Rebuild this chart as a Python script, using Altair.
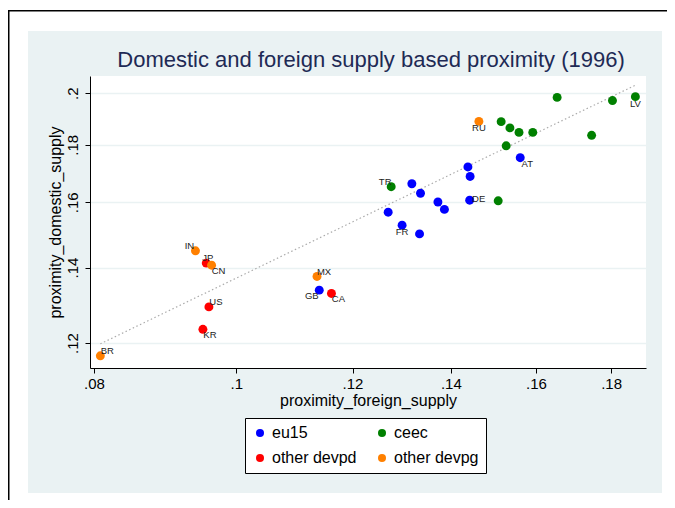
import altair as alt
import pandas as pd

# ---- data ----
# legend entries are laid out column by column: col 1 = eu15 / other devpd, col 2 = ceec / other devpg
groups_order = ["eu15", "other devpd", "ceec", "other devpg"]
group_colors = ["#0000FF", "#FF0000", "#008000", "#FF8000"]

codes = ["AT", "", "", "", "", "", "", "DE", "", "FR", "", "GB",
         "", "", "LV", "", "", "", "", "", "", "TR", "",
         "JP", "CA", "US", "KR",
         "RU", "IN", "CN", "MX", "BR"]
groups = (["eu15"] * 12 + ["ceec"] * 11 + ["other devpd"] * 4 + ["other devpg"] * 5)
foreign = [0.1561, 0.1438, 0.1443, 0.1317, 0.1335, 0.1372, 0.1386, 0.1442, 0.1269, 0.1297, 0.1333, 0.1139,
           0.1654, 0.1804, 0.1870, 0.1515, 0.1536, 0.1558, 0.1592, 0.1746, 0.1527, 0.1275, 0.1508,
           0.0954, 0.1161, 0.0958, 0.0949,
           0.1463, 0.0938, 0.0962, 0.1135, 0.0808]
domestic = [0.1753, 0.1720, 0.1687, 0.1662, 0.1630, 0.1601, 0.1577, 0.1607, 0.1568, 0.1527, 0.1500, 0.1337,
            0.1983, 0.1970, 0.1986, 0.1887, 0.1863, 0.1846, 0.1846, 0.1835, 0.1796, 0.1652, 0.1605,
            0.1413, 0.1328, 0.1292, 0.1234,
            0.1888, 0.1449, 0.1407, 0.1375, 0.1169]

# marker-label clock positions (as in Stata's mlabvposition)
label_clock = {"LV": 6, "RU": 6, "FR": 6, "AT": 4, "CN": 4, "CA": 4, "KR": 4,
               "TR": 11, "IN": 11, "JP": 12, "MX": 2, "US": 2, "BR": 2, "DE": 3, "GB": 8}

# fitted line end points
fit_x = [0.0808, 0.1870]
fit_y = [0.1198, 0.2033]

x_ticks = [0.08, 0.10, 0.12, 0.14, 0.16, 0.18]
y_ticks = [0.12, 0.14, 0.16, 0.18, 0.20]

title_text = "Domestic and foreign supply based proximity (1996)"

# ---- styling ----
FONT = "Liberation Sans, Arial, Helvetica, sans-serif"
BG = "#EAF2F3"
W, H = 556, 292
PL, PT = 82, 68
CW, CH = 659, 492

df = pd.DataFrame({"code": codes, "group": groups, "x": foreign, "y": domestic})
df["clock"] = df["code"].map(label_clock).fillna(0).astype(int)
fit_df = pd.DataFrame({"x": fit_x, "y": fit_y})

xscale = alt.Scale(type="log", domain=[0.0795, 0.19014], nice=False)
yscale = alt.Scale(type="log", domain=[0.11402, 0.20716], nice=False)

xaxis = alt.Axis(values=x_ticks, labelExpr="substring(format(datum.value, '.2~f'), 1)",
                 title="proximity_foreign_supply", grid=False, labelFlush=False,
                 labelOverlap=False, tickSize=5, labelPadding=3, titlePadding=1)
yaxis = alt.Axis(values=y_ticks, labelExpr="substring(format(datum.value, '.2~f'), 1)",
                 title="proximity_domestic_supply", grid=True, gridColor=BG, gridWidth=1.5,
                 labelAngle=270, labelAlign="center", labelBaseline="bottom",
                 labelFlush=False, labelOverlap=False, tickSize=5, labelPadding=5,
                 titlePadding=2)

X = alt.X("x:Q", scale=xscale, axis=xaxis)
Y = alt.Y("y:Q", scale=yscale, axis=yaxis)

fit = alt.Chart(fit_df).mark_line(color="#ABABAB", strokeDash=[1.5, 2.5], strokeWidth=1.2).encode(
    x=alt.X("x:Q", scale=xscale), y=alt.Y("y:Q", scale=yscale))

points = alt.Chart(df).mark_circle(size=80, opacity=1).encode(
    x=X, y=Y,
    color=alt.Color("group:N", scale=alt.Scale(domain=groups_order, range=group_colors),
                    legend=alt.Legend(title=None, orient="none", legendX=155, legendY=342,
                                      columns=2, columnPadding=17, rowPadding=9,
                                      padding=7, strokeColor="black", fillColor="white",
                                      symbolType="circle", symbolSize=64, symbolStrokeWidth=0,
                                      labelFontSize=16, labelFont=FONT, labelColor="black",
                                      labelOffset=4, labelLimit=300)),
    order=alt.Order("idx:Q"),
).transform_window(idx="row_number()")

offsets = {6: (0, 7), 4: (7, 6), 11: (-6, -5), 12: (1.5, -5.5), 2: (7, -4.5), 3: (9, -1.5), 8: (-7.5, 5.5)}
text_layers = []
for clock, (ddx, ddy) in offsets.items():
    text_layers.append(
        alt.Chart(df).transform_filter(alt.datum.clock == clock).mark_text(
            fontSize=9.5, font=FONT, color="#222222", dx=ddx, dy=ddy,
            align="center", baseline="middle").encode(
            x=alt.X("x:Q", scale=xscale), y=alt.Y("y:Q", scale=yscale), text="code:N"))

deco = alt.Data(values=[{"k": 1}])


def box(x, x2, y, y2, color):
    return alt.Chart(deco).mark_rect(color=color).encode(
        x=alt.value(x), x2=alt.value(x2), y=alt.value(y), y2=alt.value(y2))


decor = [
    box(-PL, -PL + 20, -PT, CH - PT, "white"),
    box(-PL, CW - PL, -PT, -PT + 23, "white"),
    box(CW - PL - 5, CW - PL, -PT, CH - PT, "white"),
    box(-PL, CW - PL, CH - PT - 7, CH - PT, "white"),
    box(-PL, -PL + 1.5, -PT + 2, CH - PT, "black"),
    box(-PL, CW - PL, -PT + 2, -PT + 3.5, "black"),
]

title = alt.Chart(deco).mark_text(
    text=title_text, fontSize=22, font=FONT, color="#1E2A55",
    align="center", baseline="middle").encode(x=alt.value(W / 2 + 3), y=alt.value(-16))

chart = alt.layer(fit, points, *text_layers, *decor, title).properties(
    width=W, height=H,
    autosize=alt.AutoSizeParams(type="none"),
    padding={"left": PL, "top": PT, "right": CW - PL - W, "bottom": CH - PT - H},
).configure(background=BG).configure_view(fill="white", strokeWidth=0).configure_axis(
    labelFont=FONT, titleFont=FONT, labelFontSize=15, titleFontSize=16,
    labelColor="black", titleColor="black", titleFontWeight="normal",
    domainColor="black", tickColor="black", domainWidth=1, tickWidth=1)

chart.save("out.html", embed_options={"renderer": "svg", "actions": False})
